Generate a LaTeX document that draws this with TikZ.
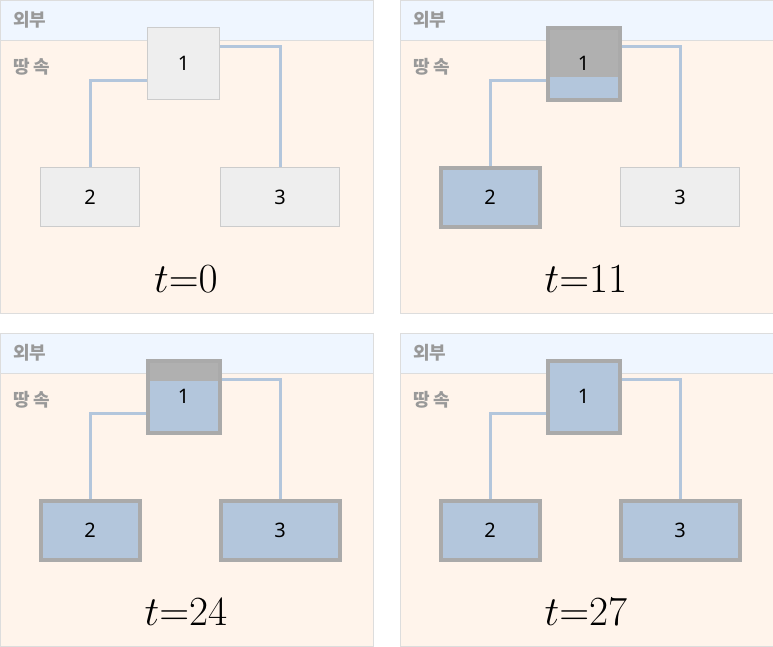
\documentclass[tikz,border=0pt]{standalone}
\usepackage{fontspec}
\setsansfont{Noto Sans}
\newfontfamily\kofont{Noto Sans CJK KR}
\usepackage{tikz}
\usetikzlibrary{calc}
\definecolor{airbg}{HTML}{EFF6FF}
\definecolor{soilbg}{HTML}{FFF4EB}
\definecolor{panelline}{HTML}{DDDDDD}
\definecolor{idlefill}{HTML}{EEEEEE}
\definecolor{idleline}{HTML}{CCCCCC}
\definecolor{donefill}{HTML}{B3C6DC}
\definecolor{doneline}{HTML}{AAAAAA}
\definecolor{bargrey}{HTML}{B0B0B0}
\definecolor{zonegrey}{HTML}{999999}
\tikzset{
  box1/.style={rectangle, inner sep=0pt, minimum width=54pt, minimum height=54pt, font=\sffamily\fontsize{15}{18}\selectfont},
  box2/.style={rectangle, inner sep=0pt, minimum width=74.25pt, minimum height=44.25pt, font=\sffamily\fontsize{15}{18}\selectfont},
  box3/.style={rectangle, inner sep=0pt, minimum width=89.25pt, minimum height=44.25pt, font=\sffamily\fontsize{15}{18}\selectfont},
  idle/.style={draw=idleline, fill=idlefill, line width=0.75pt},
  done/.style={draw=doneline, fill=donefill, line width=3pt},
  filling/.style={draw=doneline, fill=bargrey, line width=3pt,
    path picture={\fill[donefill] ([xshift=1.5pt,yshift=1.5pt]path picture bounding box.south west)
      rectangle ([xshift=-1.5pt,yshift=#1]path picture bounding box.south east);}},
  edge/.style={draw=donefill, line width=2.25pt},
  zonelabel/.style={anchor=west, inner sep=0pt, text=zonegrey, font=\kofont\bfseries\fontsize{13.5}{16}\selectfont},
  timelabel/.style={anchor=base, inner sep=0pt, scale=1.25, font=\fontsize{24.88}{30}\selectfont}
}
% one time step: background, zone names, time
\newcommand{\stage}[4]{%
  \fill[soilbg] (#1,#2) rectangle ++(373,313);
  \fill[airbg] (#1,#2) rectangle ++(373,40);
  \draw[panelline, line width=0.75pt] (#1,#2+40) -- ++(373,0);
  \draw[panelline, line width=0.75pt] (#1,#2) rectangle ++(373,313);
  \node[zonelabel] (#3out) at (#1+13,#2+20) {외부};
  \node[zonelabel] (#3soil) at (#1+13,#2+67) {땅 속};
  \node[timelabel] (#3t) at (#1+186,#2+292) {$t{=}#4$};
}
% the three boxes and their links
\newcommand{\tree}[6]{%
  \node[box1,#4] (#3one) at (#1+183.5,#2+63.5) {1};
  \node[box2,#5] (#3two) at (#1+90,#2+197) {2};
  \node[box3,#6] (#3three) at (#1+280,#2+197) {3};
  \draw[edge] ([yshift=-12.4pt]#3one.west) -| (#3two.north);
  \draw[edge] ([yshift=12.4pt]#3one.east) -| (#3three.north);
}
\begin{document}
\begin{tikzpicture}[x=0.75pt,y=-0.75pt]
        \clip (0,0) rectangle (773,646);
        %panels
        \stage{0}{0}{a}{0}
        \stage{400}{0}{b}{11}
        \stage{0}{333}{c}{24}
        \stage{400}{333}{d}{27}
        %boxes
        \tree{0}{0}{a}{idle}{idle}{idle}
        \tree{400}{0}{b}{filling=17.25pt}{done}{idle}
        \tree{0}{333}{c}{filling=39pt}{done}{done}
        \tree{400}{333}{d}{done}{done}{done}
\end{tikzpicture}
\end{document}
